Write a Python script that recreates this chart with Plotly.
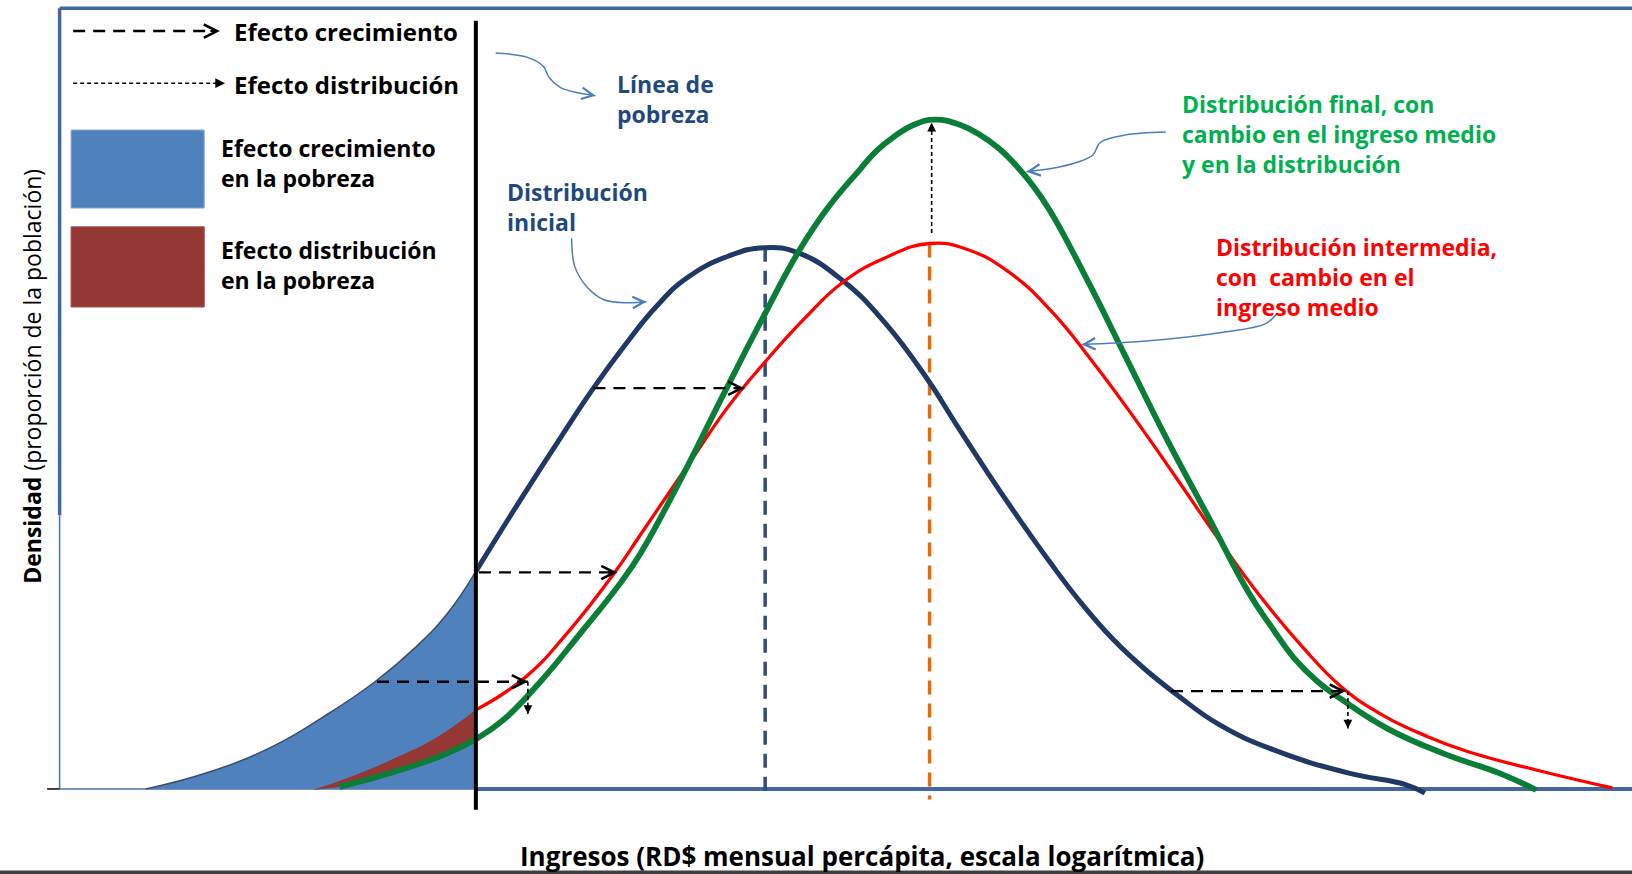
import math
import plotly.graph_objects as go

# Ingreso (escala logarítmica, unidades arbitrarias) y densidad
navy_x = [8.3, 14.3, 20.3, 25.3, 30.3, 34.3, 37.3, 40.0, 44.3, 48.3, 51.3, 54.3, 57.3, 60.3, 64.3,
          67.8, 71.0, 75.3, 79.3, 83.3, 86.3, 89.3, 92.3, 95.3, 98.3, 101.3, 104.3, 107.3, 111.4,
          116.8, 124.0, 129.4, 131.2]
navy_y = [0.0, 1.6, 4.0, 6.9, 10.3, 13.7, 16.9, 20.9, 27.8, 34.0, 38.5, 42.6, 46.3, 49.1, 51.2,
          52.0, 51.5, 48.8, 44.8, 39.5, 34.8, 30.2, 25.8, 21.6, 17.7, 14.3, 11.5, 9.1, 6.2,
          3.7, 1.5, 0.4, -0.4]

red_x = [24.3, 28.3, 32.3, 36.3, 40.0, 44.6, 48.8, 53.2, 55.8, 60.3, 64.3, 67.0, 71.5, 75.3, 79.3,
         83.6, 87.3, 91.3, 95.3, 99.3, 103.3, 107.3, 111.3, 115.3, 119.3, 123.3, 127.3, 131.3,
         135.3, 142.0, 149.2]
red_y = [-0.1, 1.3, 3.0, 5.0, 7.6, 10.6, 15.0, 20.6, 24.4, 31.0, 36.8, 40.1, 45.1, 48.7, 51.0,
         52.4, 51.8, 49.6, 45.9, 41.0, 35.6, 29.9, 24.1, 18.6, 13.8, 9.7, 7.0, 5.1,
         3.6, 1.8, 0.1]

green_x = [26.9, 32.0, 37.2, 40.0, 42.6, 46.2, 50.0, 53.9, 55.8, 59.3, 64.1, 67.6, 71.0, 73.8, 76.9,
           78.5, 80.1, 82.1, 84.1, 86.5, 88.5, 90.3, 92.0, 93.5, 95.2, 98.8, 102.3, 106.3, 110.3,
           114.3, 116.5, 118.6, 120.9, 123.2, 127.6, 133.0, 138.4, 141.9]
green_y = [0.2, 1.6, 3.4, 4.8, 6.6, 10.3, 14.9, 19.8, 22.6, 29.0, 38.5, 45.3, 51.6, 55.8, 59.5,
           61.3, 62.6, 63.8, 64.3, 63.8, 62.8, 61.5, 59.8, 58.0, 55.5, 48.8, 41.8, 33.8, 26.3,
           18.8, 15.5, 12.6, 10.3, 8.6, 5.8, 3.4, 1.5, -0.1]

poverty_line = 40.0

# flechas del efecto crecimiento (horizontales)
growth_x0 = [51.3, 40.3, 30.5, 106.8]
growth_x1 = [65.8, 53.6, 45.0, 123.6]
growth_y = [38.5, 20.8, 10.3, 9.4]

# flechas del efecto distribución (verticales)
distrib_x = [45.0, 123.8]
distrib_y0 = [10.3, 9.4]
distrib_y1 = [7.2, 5.8]

# flechas indicadoras de las etiquetas
ptr_linea = ([41.9, 44.9, 46.5, 47.0, 48.1, 49.7, 51.5], [70.7, 70.3, 69.4, 68.4, 67.4, 66.9, 66.6])
ptr_inicial = ([49.2, 49.5, 50.7, 52.3, 54.5, 56.4], [52.9, 50.2, 48.2, 47.0, 46.7, 46.8])
ptr_final = ([106.3, 102.3, 100.0, 99.3, 97.8, 95.3, 92.9], [63.1, 62.8, 62.1, 60.9, 60.2, 59.6, 59.3])
ptr_interm = ([117.0, 115.9, 111.3, 104.1, 98.2], [45.7, 44.7, 43.8, 43.0, 42.7])

NAVY = "#1f3864"
RED = "#ff0000"
GREEN = "#0a7d36"
FRAME = "#43679e"
PTR = "#4a7ebb"
FONT = "Open Sans"
SMOOTH = 1.3

fig = go.Figure()

left = [i for i, x in enumerate(navy_x) if x <= poverty_line]
right = [i for i, x in enumerate(navy_x) if x >= poverty_line]
fig.add_trace(go.Scatter(x=[navy_x[i] for i in left], y=[navy_y[i] for i in left],
                         mode="lines", line=dict(color="#3a4d6e", width=1.5, shape="spline", smoothing=SMOOTH),
                         fill="tozeroy", fillcolor="#4f81bd", hoverinfo="skip"))

gl = [i for i, x in enumerate(green_x) if x <= poverty_line]
rl = [i for i, x in enumerate(red_x) if x <= poverty_line]
fig.add_trace(go.Scatter(x=[green_x[i] for i in gl], y=[green_y[i] for i in gl],
                         mode="lines", line=dict(width=0, shape="spline", smoothing=SMOOTH), hoverinfo="skip"))
fig.add_trace(go.Scatter(x=[red_x[i] for i in rl], y=[red_y[i] for i in rl],
                         mode="lines", line=dict(width=0, shape="spline", smoothing=SMOOTH),
                         fill="tonexty", fillcolor="#953735", hoverinfo="skip"))

# líneas de ingreso medio
navy_peak = navy_y.index(max(navy_y))
red_peak = red_y.index(max(red_y))
green_peak = green_y.index(max(green_y))
fig.add_trace(go.Scatter(x=[navy_x[navy_peak]] * 2, y=[navy_y[navy_peak], -1.0], mode="lines",
                         line=dict(color="#2c4d7e", width=3.5, dash="14px,9px")))
fig.add_trace(go.Scatter(x=[red_x[red_peak]] * 2, y=[red_y[red_peak], -1.0], mode="lines",
                         line=dict(color="#e36c09", width=3.5, dash="14px,9px")))

fig.add_trace(go.Scatter(x=[navy_x[i] for i in right], y=[navy_y[i] for i in right], mode="lines",
                         line=dict(color=NAVY, width=5, shape="spline", smoothing=SMOOTH)))
rr = [i for i, x in enumerate(red_x) if x >= poverty_line]
fig.add_trace(go.Scatter(x=[red_x[i] for i in rr], y=[red_y[i] for i in rr], mode="lines",
                         line=dict(color=RED, width=3.3, shape="spline", smoothing=SMOOTH)))
fig.add_trace(go.Scatter(x=green_x, y=green_y, mode="lines",
                         line=dict(color=GREEN, width=5.8, shape="spline", smoothing=SMOOTH)))

fig.add_trace(go.Scatter(x=[poverty_line, poverty_line], y=[73.8, -2.0], mode="lines",
                         line=dict(color="black", width=4)))

annotations = []


def head(x, y, dx, dy, kind, color="black", width=2.0, size=1.3, length=11):
    # punta de flecha en (x, y); (dx, dy) es la dirección en unidades de datos
    n = math.hypot(dx, dy)
    annotations.append(dict(x=x, y=y, xref="x", yref="y", ax=-dx / n * length, ay=dy / n * length,
                            text="", font=dict(size=1), showarrow=True, arrowhead=kind,
                            arrowcolor=color, arrowwidth=width, arrowsize=size, standoff=0))


for x0, x1, y in zip(growth_x0, growth_x1, growth_y):
    fig.add_trace(go.Scatter(x=[x0, x1], y=[y, y], mode="lines",
                             line=dict(color="black", width=2.3, dash="12px,8px")))
    head(x1, y, 1, 0, 5)

for x, y0, y1 in zip(distrib_x, distrib_y0, distrib_y1):
    fig.add_trace(go.Scatter(x=[x, x], y=[y0, y1], mode="lines",
                             line=dict(color="black", width=1.6, dash="4px,3px")))
    head(x, y1, 0, -1, 2, width=1.6, size=1.1, length=8)

ux = red_x[red_peak] + 0.2
fig.add_trace(go.Scatter(x=[ux, ux], y=[red_y[red_peak] + 1.0, green_y[green_peak] - 0.3], mode="lines",
                         line=dict(color="black", width=1.6, dash="4px,3px")))
head(ux, green_y[green_peak] - 0.3, 0, 1, 2, width=1.6, size=1.1, length=8)

for px, py in [ptr_linea, ptr_inicial, ptr_final, ptr_interm]:
    fig.add_trace(go.Scatter(x=px, y=py, mode="lines", line=dict(color=PTR, width=1.5, shape="spline")))
    head(px[-1], py[-1], px[-1] - px[-2], py[-1] - py[-2], 5, color=PTR, width=1.5, size=1.5, length=8)

# leyenda dibujada
fig.add_trace(go.Scatter(x=[1.3, 15.0], y=[72.8, 72.8], mode="lines",
                         line=dict(color="black", width=2.5, dash="12px,8px")))
head(15.4, 72.8, 1, 0, 5)
fig.add_trace(go.Scatter(x=[1.3, 15.3], y=[67.8, 67.8], mode="lines",
                         line=dict(color="black", width=1.5, dash="4px,3px")))
head(15.9, 67.8, 1, 0, 2, width=1.5, size=1.3, length=8)


def label(x, y, text, color="black", size=23):
    annotations.append(dict(x=x, y=y, xref="x", yref="y", text="<b>" + text + "</b>", showarrow=False,
                            xanchor="left", yanchor="middle", align="left",
                            font=dict(family=FONT, size=size, color=color)))


label(16.6, 72.8, "Efecto crecimiento", size=24)
label(16.6, 67.7, "Efecto distribución", size=24)
label(15.3, 60.15, "Efecto crecimiento<br>en la pobreza")
label(15.3, 50.35, "Efecto distribución<br>en la pobreza")
label(53.4, 66.25, "Línea de<br>pobreza", "#1f497d")
label(42.8, 55.95, "Distribución<br>inicial", "#1f497d")
label(107.7, 62.9, "Distribución final, con<br>cambio en el ingreso medio<br>y en la distribución", "#00b050")
label(110.9, 49.2, "Distribución intermedia,<br>con  cambio en el<br>ingreso medio", RED)

annotations.append(dict(x=-0.008, y=0.54, xref="paper", yref="paper", textangle=-90,
                        text="<b>Densidad</b> (proporción de la población)", showarrow=False,
                        xanchor="center", yanchor="middle", font=dict(family=FONT, size=23, color="black")))
annotations.append(dict(x=0.515, y=-0.0505, xref="paper", yref="paper",
                        text="<b>Ingresos (RD$ mensual percápita, escala logarítmica)</b>", showarrow=False,
                        xanchor="center", yanchor="middle", font=dict(family=FONT, size=26, color="black")))

shapes = [
    dict(type="line", x0=0, x1=151.1, y0=75, y1=75, line=dict(color=FRAME, width=3.5), layer="below"),
    dict(type="line", x0=0, x1=0, y0=75, y1=26.3, line=dict(color=FRAME, width=3.5), layer="below"),
    dict(type="line", x0=0, x1=0, y0=26.3, y1=0, line=dict(color="#4a72aa", width=1.5), layer="below"),
    dict(type="line", x0=0, x1=poverty_line, y0=0, y1=0, line=dict(color="#4a72aa", width=1.5), layer="below"),
    dict(type="line", x0=poverty_line, x1=151.1, y0=0, y1=0, line=dict(color=FRAME, width=4), layer="below"),
    dict(type="line", x0=-1.2, x1=0, y0=0, y1=0, line=dict(color="black", width=1.5), layer="below"),
    dict(type="rect", x0=1.1, x1=13.9, y0=55.8, y1=63.3, fillcolor="#4f81bd",
         line=dict(color="#8eaedb", width=1)),
    dict(type="rect", x0=1.1, x1=13.9, y0=46.3, y1=54.0, fillcolor="#953735",
         line=dict(color="#a9504e", width=1)),
    dict(type="rect", xref="paper", yref="paper", x0=-0.03, x1=1.0, y0=-0.0685, y1=-0.08,
         fillcolor="#404040", line=dict(width=0)),
]

fig.update_layout(
    width=1632, height=874,
    margin=dict(l=44, r=0, t=3, b=59),
    plot_bgcolor="white", paper_bgcolor="white",
    showlegend=False,
    xaxis=dict(range=[-1.5, 151.1], visible=False, fixedrange=True),
    yaxis=dict(range=[-2.5, 75.5], visible=False, fixedrange=True),
    annotations=annotations,
    shapes=shapes,
)

fig.write_html("out.html", config={"displayModeBar": False},
               post_script="document.body.style.margin='0px';")
